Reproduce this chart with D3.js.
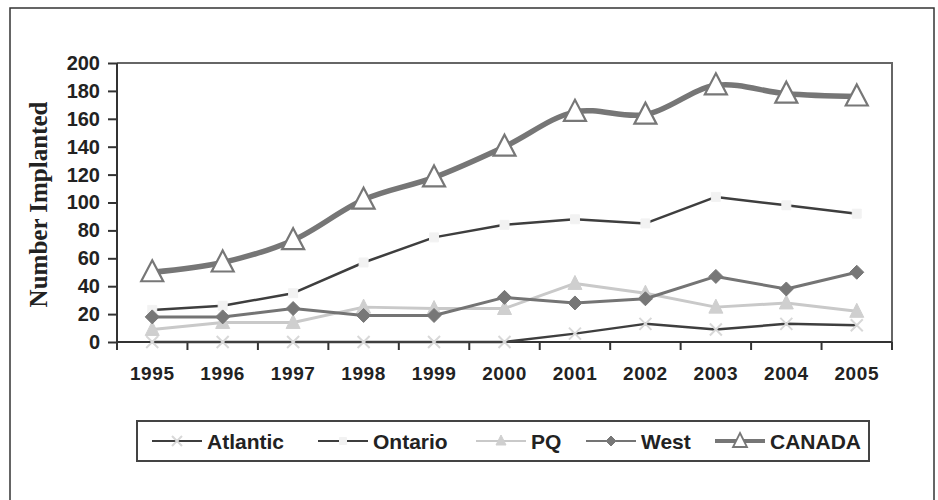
<!DOCTYPE html>
<html>
<head>
<meta charset="utf-8">
<script src="https://cdn.jsdelivr.net/npm/d3@7"></script>
<style>
  body { margin: 0; background: #fff; }
  svg { display: block; }
</style>
</head>
<body>
<div id="chart"></div>
<script>
const years = ['1995','1996','1997','1998','1999','2000','2001','2002','2003','2004','2005'];
const atlantic = [0, 0, 0, 0, 0, 0, 6, 13, 9, 13, 12];
const ontario  = [23, 26, 35, 57, 75, 84, 88, 85, 104, 98, 92];
const pq       = [9, 14, 14, 25, 24, 24, 42, 35, 25, 28, 22];
const west     = [18, 18, 24, 19, 19, 32, 28, 31, 47, 38, 50];
const canada   = [50, 57, 73, 102, 118, 140, 165, 163, 184, 178, 176];
const yTicks   = [0, 20, 40, 60, 80, 100, 120, 140, 160, 180, 200];

const width = 938, height = 500;
const plotL = 117, plotR = 892, plotT = 63, plotB = 342;

const svg = d3.select('#chart')
              .append('svg')
              .attr('width', width)
              .attr('height', height);

// outer frame
svg.append('rect')
   .attr('x', 10).attr('y', 8)
   .attr('width', 924).attr('height', 520)
   .style('fill', 'none')
   .style('stroke', '#333')
   .style('stroke-width', 1.5);

let scaleX = d3.scaleBand().domain(years).range([plotL, plotR]).padding(0);
let scaleY = d3.scaleLinear().domain([0, 200]).range([plotB, plotT]);
const cx = d => scaleX(d) + scaleX.bandwidth()/2;

// plot box top + right
svg.append('path')
   .attr('d', `M${plotL},${plotT}H${plotR}V${plotB}`)
   .style('fill', 'none')
   .style('stroke', '#666')
   .style('stroke-width', 2);

// y axis
let yAxis = d3.axisLeft(scaleY).tickValues(yTicks).tickSize(9).tickPadding(8);
let yAxisGroup = svg.append('g')
                    .attr('transform', 'translate(' + plotL + ',0)')
                    .call(yAxis);
yAxisGroup.select('.domain').remove();
yAxisGroup.append('line')
          .attr('x1', 0).attr('x2', 0)
          .attr('y1', plotT).attr('y2', plotB + 8)
          .style('stroke', '#333').style('stroke-width', 2);
yAxisGroup.selectAll('.tick line').style('stroke', '#333').style('stroke-width', 2);
yAxisGroup.selectAll('text')
          .style('font-family', '"Liberation Sans", Arial, sans-serif')
          .style('font-weight', 'bold')
          .style('font-size', '20px')
          .style('fill', '#222');

// x axis
let xAxis = d3.axisBottom(scaleX).tickSize(0).tickPadding(25);
let xAxisGroup = svg.append('g')
                    .attr('transform', 'translate(0,' + plotB + ')')
                    .call(xAxis);
xAxisGroup.select('.domain').remove();
xAxisGroup.append('line')
          .attr('x1', plotL).attr('x2', plotR)
          .style('stroke', '#333').style('stroke-width', 2);
xAxisGroup.selectAll('.bound')
          .data(years.map(d => scaleX(d)).concat([scaleX.range()[1]]))
          .enter().append('line')
          .attr('x1', d => d).attr('x2', d => d)
          .attr('y1', 0).attr('y2', 8)
          .style('stroke', '#333').style('stroke-width', 2);
xAxisGroup.selectAll('text')
          .style('font-family', '"Liberation Sans", Arial, sans-serif')
          .style('font-weight', 'bold')
          .style('font-size', '19px')
          .style('letter-spacing', '0.6px')
          .style('fill', '#222');

// y title
svg.append('text')
   .attr('transform', 'translate(47,' + ((plotT + plotB)/2 + 2) + ') rotate(-90)')
   .style('text-anchor', 'middle')
   .style('font-family', '"Liberation Serif", "Times New Roman", serif')
   .style('font-weight', 'bold')
   .style('font-size', '25px')
   .style('fill', '#222')
   .text('Number Implanted');

// markers
const triBig = 'M0,-12L11,9L-11,9Z';
const triSmall = 'M0,-8L7,6L-7,6Z';
const diamond = 'M0,-7L7,0L0,7L-7,0Z';
const xMark = 'M-6,-6L6,6M-6,6L6,-6';
const sq = 'M-4.5,-4.5H4.5V4.5H-4.5Z';

const series = [
  {name: 'Atlantic', values: atlantic, color: '#3e3e3e', w: 2.5, curve: d3.curveLinear,
   marker: xMark, mFill: 'none', mStroke: '#d8d8d8', mW: 2},
  {name: 'Ontario', values: ontario, color: '#3e3e3e', w: 2.5, curve: d3.curveLinear,
   marker: sq, mFill: '#f2f2f2', mStroke: '#f2f2f2', mW: 1},
  {name: 'PQ', values: pq, color: '#c9c9c9', w: 3, curve: d3.curveLinear,
   marker: triSmall, mFill: '#cfcfcf', mStroke: '#cfcfcf', mW: 1},
  {name: 'West', values: west, color: '#747474', w: 3, curve: d3.curveLinear,
   marker: diamond, mFill: '#777', mStroke: '#777', mW: 1},
  {name: 'CANADA', values: canada, color: '#767676', w: 5.5, curve: d3.curveCatmullRom.alpha(0.5),
   marker: triBig, mFill: '#fff', mStroke: '#777', mW: 2.2}
];

series.forEach(s => {
  let pts = years.map((y, i) => ({year: y, v: s.values[i]}));
  let line = d3.line().x(d => cx(d.year)).y(d => scaleY(d.v)).curve(s.curve);
  svg.append('path')
     .datum(pts)
     .attr('d', line)
     .style('fill', 'none')
     .style('stroke', s.color)
     .style('stroke-width', s.w)
     .style('stroke-linejoin', 'round');
  svg.selectAll('.m-' + s.name)
     .data(pts)
     .enter().append('path')
     .attr('d', s.marker)
     .attr('transform', d => 'translate(' + cx(d.year) + ',' + scaleY(d.v) + ')')
     .style('fill', s.mFill)
     .style('stroke', s.mStroke)
     .style('stroke-width', s.mW);
});

// legend
const legX = 137, legY = 421, legW = 732, legH = 40;
svg.append('rect')
   .attr('x', legX).attr('y', legY)
   .attr('width', legW).attr('height', legH)
   .style('fill', '#fff')
   .style('stroke', '#444')
   .style('stroke-width', 2);

const legStarts = [152, 318, 476, 586, 715];
const legMarkers = [
  'M-5,-5L5,5M-5,5L5,-5', 'M-3.5,-3.5H3.5V3.5H-3.5Z', 'M0,-6L5,4L-5,4Z',
  'M0,-5L5,0L0,5L-5,0Z', 'M0,-8L7,6L-7,6Z'
];
series.forEach((s, i) => {
  let g = svg.append('g').attr('transform', 'translate(' + legStarts[i] + ',' + (legY + legH/2) + ')');
  g.append('line')
   .attr('x1', 0).attr('x2', 50)
   .style('stroke', s.color)
   .style('stroke-width', s.name === 'CANADA' ? 4 : 2);
  g.append('path')
   .attr('d', legMarkers[i])
   .attr('transform', 'translate(25,0)')
   .style('fill', s.mFill)
   .style('stroke', s.mStroke)
   .style('stroke-width', s.name === 'CANADA' ? 1.8 : s.mW);
  g.append('text')
   .attr('x', 55).attr('y', 0).attr('dy', '0.36em')
   .style('font-family', '"Liberation Sans", Arial, sans-serif')
   .style('font-weight', 'bold')
   .style('font-size', '21px')
   .style('fill', '#222')
   .text(s.name);
});
</script>
</body>
</html>
